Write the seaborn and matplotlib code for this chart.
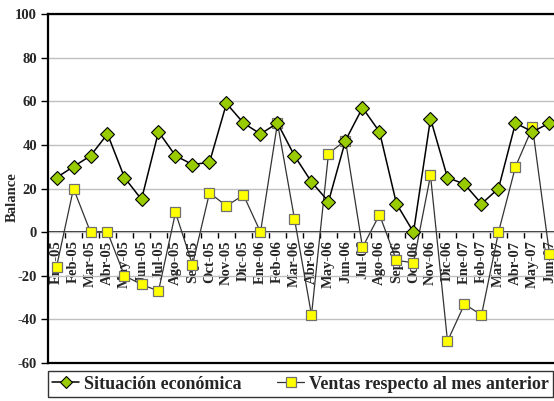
import numpy as np
import pandas as pd
import seaborn as sns
import matplotlib.pyplot as plt

meses = ['Ene-05', 'Feb-05', 'Mar-05', 'Abr-05', 'May-05', 'Jun-05', 'Jul-05', 'Ago-05',
         'Sep-05', 'Oct-05', 'Nov-05', 'Dic-05', 'Ene-06', 'Feb-06', 'Mar-06', 'Abr-06',
         'May-06', 'Jun-06', 'Jul-06', 'Ago-06', 'Sep-06', 'Oct-06', 'Nov-06', 'Dic-06',
         'Ene-07', 'Feb-07', 'Mar-07', 'Abr-07', 'May-07', 'Jun-07']
situacion = [25, 30, 35, 45, 25, 15, 46, 35, 31, 32, 59, 50, 45, 50, 35, 23,
             14, 42, 57, 46, 13, 0, 52, 25, 22, 13, 20, 50, 46, 50]
ventas = [-16, 20, 0, 0, -20, -24, -27, 9, -15, 18, 12, 17, 0, 50, 6, -38,
          36, 42, -7, 8, -13, -14, 26, -50, -33, -38, 0, 30, 48, -10]
yticks = [-60, -40, -20, 0, 20, 40, 60, 80, 100]

df = pd.DataFrame({'pos': np.arange(len(meses)), 'mes': meses,
                   'situacion': situacion, 'ventas': ventas})

sns.set_style('white')
plt.rcParams['font.family'] = ['Liberation Serif', 'DejaVu Serif']
plt.rcParams['font.weight'] = 'bold'

fig = plt.figure(figsize=(5.54, 4.01), dpi=100)
ax = fig.add_axes([48 / 554, 1 - 363 / 401, 510 / 554, 349 / 401])

sns.lineplot(data=df, x='pos', y='ventas', ax=ax, color='#333333', lw=0.9,
             marker='s', markersize=7.5, markerfacecolor='#FFFF00',
             markeredgecolor='#707070', markeredgewidth=0.9,
             sort=False, errorbar=None, label='Ventas respecto al mes anterior', zorder=3)
sns.lineplot(data=df, x='pos', y='situacion', ax=ax, color='black', lw=1.1,
             marker='D', markersize=7.5, markerfacecolor='#99CC00',
             markeredgecolor='black', markeredgewidth=0.8,
             sort=False, errorbar=None, label='Situación económica', zorder=4)

ax.set_xlim(-0.5, len(meses) - 0.5)
ax.set_ylim(-60, 100)
ax.set_yticks(yticks)
ax.set_yticklabels([str(v) for v in yticks], fontsize=10.5, fontweight='bold')
ax.tick_params(axis='y', direction='out', length=5, width=1, color='black', pad=3, left=True)
ax.set_xticks([])
ax.set_xlabel('')
ax.set_ylabel('Balance', fontsize=10.5, fontweight='bold')
ax.yaxis.set_label_coords(-0.057, 0.476)
ax.grid(axis='y', color='#C0C0C0', lw=1)
ax.grid(axis='x', visible=False)
for s in ax.spines.values():
    s.set_color('black')
    s.set_linewidth(1.6)

# eje de categorías en y = 0
sec = ax.secondary_xaxis(60 / 160)
sec.spines['bottom'].set_color('black')
sec.spines['bottom'].set_linewidth(1.2)
sec.set_xticks(df['pos'], labels=meses)
sec.set_xticks(df['pos'][:-1] + 0.5, minor=True)
sec.tick_params(axis='x', which='major', length=0, pad=6, labelsize=10.5, rotation=90)
sec.tick_params(axis='x', which='minor', length=4, width=1, color='black', direction='out')
for t in sec.get_xticklabels():
    t.set_fontweight('bold')

h, l = ax.get_legend_handles_labels()
ax.get_legend().remove()
order = [l.index('Situación económica'), l.index('Ventas respecto al mes anterior')]
leg = fig.legend([h[i] for i in order], [l[i] for i in order], loc='center',
                 bbox_to_anchor=(0.5425, 0.042), ncol=2, frameon=True, fancybox=False,
                 prop={'size': 13, 'weight': 'bold'}, handlelength=1.5,
                 columnspacing=2.0, handletextpad=0.25, borderpad=0.25, borderaxespad=0)
leg.get_frame().set_edgecolor('black')
leg.get_frame().set_linewidth(1)
for lh in leg.legend_handles:
    lh.set_markersize(6.5)

plt.savefig('out.png', dpi=100)
